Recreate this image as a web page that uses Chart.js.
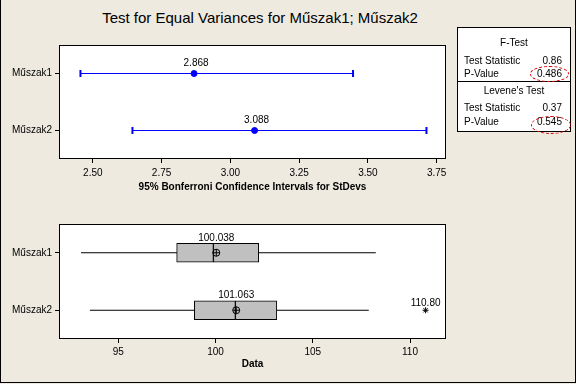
<!DOCTYPE html>
<html>
<head>
<meta charset="utf-8">
<script src="https://cdn.jsdelivr.net/npm/chart.js@4.4.1/dist/chart.umd.min.js"></script>
<style>
  body { margin: 0; }
  #wrap { position: relative; width: 576px; height: 384px; background: #eeeae0; overflow: hidden;
          font-family: "Liberation Sans", Arial, sans-serif; color: #000; }
  #frame { position: absolute; left: 0; top: 0; width: 574px; height: 382px;
           border: 1px solid #000; border-top: none; }
  canvas { position: absolute; left: 0; }
  #title { position: absolute; left: 0; top: 9px; width: 520px; text-align: center; font-size: 15px; }
  #stats { position: absolute; left: 457px; top: 27px; width: 112px; height: 103px;
           border: 1px solid #000; background: #fff; font-size: 10px; }
  #stats .h { position: absolute; left: 0; width: 100%; text-align: center; }
  #stats .l { position: absolute; left: 6px; }
  #stats .r { position: absolute; right: 8px; }
  #stats .div { position: absolute; left: 0; top: 53px; width: 100%; border-top: 1px solid #000; }
  .ell { position: absolute; border: 1px dashed #e00000; border-radius: 50%; }
</style>
</head>
<body>
<div id="wrap">
  <div id="frame"></div>
  <div id="title">Test for Equal Variances for Műszak1; Műszak2</div>
  <canvas id="ciChart" width="576" height="200" style="top:0"></canvas>
  <canvas id="boxChart" width="576" height="184" style="top:200px"></canvas>
  <div id="stats">
    <div class="h" style="top:9px">F-Test</div>
    <div class="l" style="top:27px">Test Statistic</div><div class="r" style="top:27px">0.86</div>
    <div class="l" style="top:40px">P-Value</div><div class="r" style="top:40px">0.486</div>
    <div class="div"></div>
    <div class="h" style="top:57px">Levene's Test</div>
    <div class="l" style="top:74px">Test Statistic</div><div class="r" style="top:74px">0.37</div>
    <div class="l" style="top:88px">P-Value</div><div class="r" style="top:88px">0.545</div>
  </div>
  <div class="ell" style="left:530px;top:66px;width:37px;height:14px"></div>
  <div class="ell" style="left:531px;top:116px;width:38px;height:16px"></div>
</div>
<script>
// groups
var rows = ['Műszak1', 'Műszak2'];

// 95% Bonferroni confidence intervals for StDev
var ciLow = [2.455, 2.644];
var ciHigh = [3.446, 3.713];
var stdev = [2.868, 3.088];
var ciTicks = [2.50, 2.75, 3.00, 3.25, 3.50, 3.75];

// boxplot summaries
var whiskLow = [93.08, 93.54];
var q1 = [98.00, 98.91];
var median = [99.89, 101.02];
var q3 = [102.22, 103.15];
var whiskHigh = [108.24, 107.88];
var mean = [100.038, 101.063];
var outliers = [[], [110.80]];
var dataTicks = [95, 100, 105, 110];

var font = { family: '"Liberation Sans", Arial, sans-serif', size: 10 };

var framePlugin = {
    id: 'frame',
    beforeDraw: function (chart) {
        var a = chart.chartArea, c = chart.ctx;
        c.save();
        c.fillStyle = '#fff';
        c.fillRect(a.left, a.top, a.right - a.left, a.bottom - a.top);
        c.restore();
    },
    afterDraw: function (chart) {
        var a = chart.chartArea, c = chart.ctx;
        c.save();
        c.strokeStyle = '#000';
        c.lineWidth = 1;
        c.strokeRect(a.left + 0.5, a.top + 0.5, a.right - a.left - 1, a.bottom - a.top - 1);
        c.restore();
    }
};

function labelPlugin(items) {
    return {
        id: 'valueLabels',
        afterDatasetsDraw: function (chart) {
            var c = chart.ctx, xs = chart.scales.x, ys = chart.scales.y;
            c.save();
            c.fillStyle = '#000';
            c.font = '10px "Liberation Sans", Arial, sans-serif';
            c.textAlign = 'center';
            c.textBaseline = 'middle';
            items.forEach(function (it) {
                c.fillText(it.text, xs.getPixelForValue(it.x) + (it.dx || 0), ys.getPixelForValue(it.y) + it.dy);
            });
            c.restore();
        }
    };
}

function yScale(width) {
    return {
        type: 'linear', min: 0.5, max: 2.5, reverse: true, offset: false,
        afterBuildTicks: function (s) { s.ticks = rows.map(function (r, i) { return { value: i + 1 }; }); },
        afterFit: function (s) { s.width = width; },
        ticks: { color: '#000', font: font, padding: 3, callback: function (v) { return rows[v - 1]; } },
        grid: { drawOnChartArea: false, drawTicks: true, tickLength: 4, color: '#000', offset: false },
        border: { display: false }
    };
}

function xScale(min, max, ticks, fmt, title, height, tpad, titlePad) {
    return {
        type: 'linear', min: min, max: max,
        afterBuildTicks: function (s) { s.ticks = ticks.map(function (v) { return { value: v }; }); },
        afterFit: function (s) { s.height = height; },
        ticks: { color: '#000', font: font, padding: tpad, maxRotation: 0, autoSkip: false, callback: fmt },
        grid: { drawOnChartArea: false, drawTicks: true, tickLength: 4, color: '#000' },
        border: { display: false },
        title: { display: true, text: title, color: '#000', padding: { top: 0, bottom: titlePad },
                 font: { family: font.family, size: 10, weight: 'bold' } }
    };
}

// top: confidence intervals
var ciSets = rows.map(function (r, i) {
    return {
        type: 'line', data: [{ x: ciLow[i], y: i + 1 }, { x: ciHigh[i], y: i + 1 }],
        borderColor: '#0000ff', borderWidth: 1, pointStyle: 'line', rotation: 90,
        pointRadius: 3.5, pointBorderColor: '#0000ff', pointBorderWidth: 2, order: 2
    };
});
ciSets.push({
    type: 'scatter', data: stdev.map(function (v, i) { return { x: v, y: i + 1 }; }),
    pointRadius: 3, backgroundColor: '#0000ff', borderColor: '#0000ff', order: 1
});

new Chart(document.getElementById('ciChart'), {
    type: 'scatter',
    data: { datasets: ciSets },
    options: {
        responsive: false, animation: false,
        layout: { padding: { top: 45, right: 130, left: 0, bottom: 0 } },
        plugins: { legend: { display: false }, tooltip: { enabled: false } },
        scales: {
            x: xScale(2.377, 3.784, ciTicks, function (v) { return v.toFixed(2); },
                      '95% Bonferroni Confidence Intervals for StDevs', 41, 4, 7),
            y: yScale(59)
        }
    },
    plugins: [framePlugin, labelPlugin(stdev.map(function (v, i) {
        return { text: v.toFixed(3), x: v, y: i + 1, dy: -10, dx: 2 };
    }))]
});

// bottom: boxplots
var boxSets = rows.map(function (r, i) {
    return {
        type: 'line', data: [{ x: whiskLow[i], y: i + 1 }, { x: whiskHigh[i], y: i + 1 }],
        borderColor: '#000', borderWidth: 1, pointRadius: 0, order: 3
    };
});
boxSets.push({
    type: 'bar', indexAxis: 'y', grouped: false, barThickness: 19,
    data: rows.map(function (r, i) { return { x: [q1[i], median[i]], y: i + 1 }; }),
    backgroundColor: '#c0c0c0', borderColor: '#000', borderWidth: 1, borderSkipped: false, order: 2
});
boxSets.push({
    type: 'bar', indexAxis: 'y', grouped: false, barThickness: 19,
    data: rows.map(function (r, i) { return { x: [median[i], q3[i]], y: i + 1 }; }),
    backgroundColor: '#c0c0c0', borderColor: '#000', borderWidth: 1, borderSkipped: false, order: 2
});
boxSets.push({
    type: 'scatter', data: mean.map(function (v, i) { return { x: v, y: i + 1 }; }),
    pointStyle: 'circle', pointRadius: 3.5, backgroundColor: 'rgba(0,0,0,0)', borderColor: '#000', borderWidth: 1, order: 1
});
boxSets.push({
    type: 'scatter', data: mean.map(function (v, i) { return { x: v, y: i + 1 }; }),
    pointStyle: 'cross', pointRadius: 3.5, borderColor: '#000', borderWidth: 1, order: 1
});
var outPts = [];
outliers.forEach(function (list, i) { list.forEach(function (v) { outPts.push({ x: v, y: i + 1 }); }); });
boxSets.push({
    type: 'scatter', data: outPts, pointStyle: 'star', pointRadius: 3, borderColor: '#000', borderWidth: 1, order: 1
});

var boxLabels = mean.map(function (v, i) { return { text: v.toFixed(3), x: v, y: i + 1, dy: -15 }; });
outPts.forEach(function (p) { boxLabels.push({ text: p.x.toFixed(2), x: p.x, y: p.y, dy: -7 }); });

new Chart(document.getElementById('boxChart'), {
    type: 'scatter',
    data: { datasets: boxSets },
    options: {
        responsive: false, animation: false,
        layout: { padding: { top: 24, right: 130, left: 0, bottom: 0 } },
        plugins: { legend: { display: false }, tooltip: { enabled: false } },
        scales: {
            x: xScale(91.95, 111.85, dataTicks, function (v) { return String(v); }, 'Data', 45, 3, 14),
            y: yScale(59)
        }
    },
    plugins: [framePlugin, labelPlugin(boxLabels)]
});
</script>
</body>
</html>
